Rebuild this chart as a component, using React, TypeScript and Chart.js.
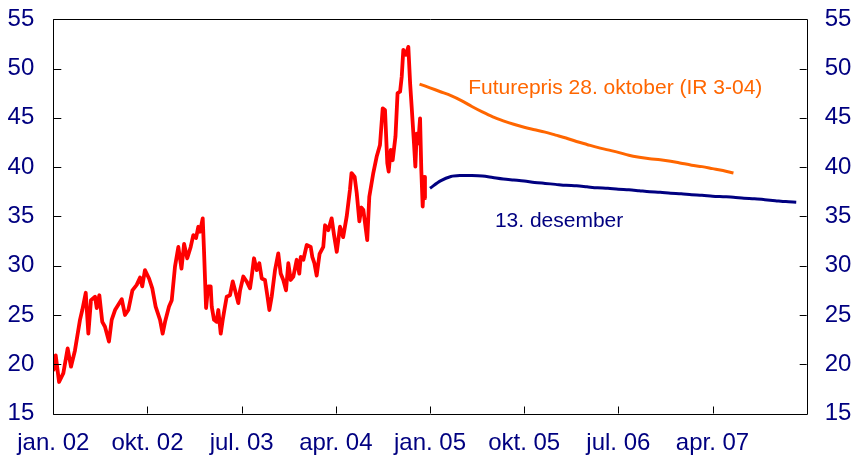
import React, { useEffect, useRef } from "react";
import { Chart, registerables } from "chart.js";

Chart.register(...registerables);

// Month index: 0 = jan. 2002
const tickMonths = [0, 9, 18, 27, 36, 45, 54, 63];
const tickLabels = ["jan. 02", "okt. 02", "jul. 03", "apr. 04", "jan. 05", "okt. 05", "jul. 06", "apr. 07"];
const yTicks = [15, 20, 25, 30, 35, 40, 45, 50, 55];

const spotMonths = [
  0.0, 0.23, 0.55, 0.96, 1.37, 1.69, 2.07, 2.55, 2.77, 3.1, 3.35, 3.6, 3.99, 4.15, 4.4, 4.68, 4.94, 5.32, 5.58, 5.9,
  6.54, 6.85, 7.17, 7.56, 7.97, 8.29, 8.5, 8.76, 9.15, 9.46, 9.78, 10.2, 10.45, 10.68, 11.06, 11.32, 11.63, 11.95,
  12.25, 12.5, 12.8, 13.13, 13.38, 13.64, 13.86, 14.02, 14.28, 14.4, 14.6, 14.8, 15.04, 15.14, 15.36, 15.6, 15.77,
  16.0, 16.19, 16.35, 16.57, 16.89, 17.15, 17.37, 17.68, 17.85, 18.16, 18.48, 18.8, 18.96, 19.18, 19.44, 19.69,
  19.92, 20.23, 20.45, 20.65, 20.87, 21.19, 21.5, 21.73, 21.98, 22.24, 22.46, 22.69, 22.94, 23.26, 23.51, 23.65,
  23.9, 24.22, 24.6, 24.75, 24.95, 25.17, 25.45, 25.8, 25.97, 26.28, 26.6, 26.83, 27.09, 27.4, 27.7, 28.04, 28.35,
  28.5, 28.8, 29.0, 29.25, 29.45, 29.63, 30.0, 30.2, 30.58, 30.9, 31.22, 31.48, 31.7, 31.92, 32.05, 32.25, 32.43,
  32.7, 32.9, 33.14, 33.3, 33.45, 33.7, 33.93, 34.1, 34.25, 34.47, 34.6, 34.73, 34.88, 35.05, 35.17, 35.3, 35.43, 35.52,
];
const spotValues = [
  19.3, 20.9, 18.2, 19.1, 21.6, 19.75, 21.4, 24.5, 25.5, 27.25, 23.1, 26.5, 26.85, 25.7, 27.0, 24.3, 23.8, 22.3, 24.5, 25.5,
  26.6, 25.0, 25.5, 27.5, 28.05, 28.8, 27.9, 29.55, 28.7, 27.7, 25.85, 24.5, 23.1, 24.3, 25.85, 26.5, 29.9, 31.9,
  29.7, 32.2, 30.75, 31.9, 33.1, 32.8, 33.95, 33.45, 34.8, 31.6, 25.7, 27.9, 27.9, 25.85, 24.5, 24.3, 25.5,
  23.1, 24.5, 25.5, 26.85, 27.0, 28.4, 27.5, 26.2, 27.5, 28.9, 28.4, 27.7, 28.9, 30.75, 29.55, 30.25,
  28.7, 28.55, 27.0, 25.5, 26.85, 29.55, 31.25, 29.2, 28.55, 27.5, 30.25, 28.55, 28.9, 30.6, 29.2, 30.9,
  30.6, 32.1, 31.9, 30.9, 30.25, 29.0, 31.2, 31.9, 34.1, 33.6, 34.8, 33.1, 31.4, 33.95, 32.9, 35.0, 37.7,
  39.4, 39.0, 37.35, 34.5, 35.9, 35.65, 32.6, 37.0, 39.4, 41.05, 42.25, 45.97, 45.8, 40.4, 39.55, 41.75, 40.7,
  43.1, 47.5, 47.65, 49.2, 51.9, 51.4, 52.2, 48.5, 46.1, 42.4, 40.05, 43.4, 42.4, 44.95, 39.7, 36.0, 39.0, 36.85,
];

const futOctMonths = [35, 36, 37, 38, 39, 40, 41, 42, 43, 44, 45, 46, 47, 48, 49, 50, 51, 52, 53, 54, 55, 56, 57, 58, 59, 60, 61, 62, 63, 64, 65];
const futOctValues = [
  48.43, 48.05, 47.65, 47.25, 46.75, 46.15, 45.6, 45.1, 44.7, 44.35, 44.05, 43.8, 43.55, 43.25, 42.95, 42.6, 42.3, 42.0,
  41.75, 41.5, 41.2, 41.0, 40.85, 40.75, 40.6, 40.4, 40.2, 40.05, 39.85, 39.65, 39.4,
];

const futDecMonths = [36, 37, 38, 39, 40, 41, 42, 43, 44, 45, 46, 47, 48, 49, 50, 51, 52, 53, 54, 55, 56, 57, 58, 59, 60, 61, 62, 63, 64, 65, 66, 67, 68, 69, 70, 71];
const futDecValues = [
  37.85, 38.6, 39.05, 39.15, 39.15, 39.1, 38.95, 38.8, 38.7, 38.6, 38.45, 38.35, 38.25, 38.15, 38.1, 38.0, 37.9, 37.85,
  37.75, 37.7, 37.6, 37.5, 37.45, 37.35, 37.3, 37.2, 37.15, 37.05, 37.0, 36.95, 36.85, 36.8, 36.7, 36.6, 36.5, 36.43,
];

const annotations = [
  { text: "Futurepris 28. oktober (IR 3-04)", month: 39.65, value: 47.42, color: "#FF6600" },
  { text: "13. desember", month: 42.2, value: 33.96, color: "#000080" },
];

const NAVY = "#000080";
const FONT = "'Liberation Sans', Arial, sans-serif";

const zip = (xs: number[], ys: number[]) => xs.map((x, i) => ({ x, y: ys[i] }));

const framePlugin = {
  id: "frame",
  afterDatasetsDraw(chart: any) {
    const { ctx, chartArea } = chart;
    const { left, right, top, bottom } = chartArea;
    const xs = chart.scales.x;
    const ys = chart.scales.y;
    ctx.save();
    ctx.strokeStyle = "#000";
    ctx.lineWidth = 1;
    ctx.beginPath();
    ctx.rect(Math.round(left) + 0.5, Math.round(top) + 0.5, Math.round(right) - Math.round(left), Math.round(bottom) - Math.round(top));
    ctx.stroke();
    ctx.beginPath();
    tickMonths.forEach((m) => {
      const px = Math.round(xs.getPixelForValue(m)) + 0.5;
      ctx.moveTo(px, bottom);
      ctx.lineTo(px, bottom - 7);
    });
    yTicks.forEach((v) => {
      const py = Math.round(ys.getPixelForValue(v)) + 0.5;
      ctx.moveTo(left, py);
      ctx.lineTo(left + 8, py);
      ctx.moveTo(right, py);
      ctx.lineTo(right - 7, py);
    });
    ctx.stroke();
    ctx.font = `21px ${FONT}`;
    ctx.textBaseline = "alphabetic";
    ctx.textAlign = "left";
    annotations.forEach((a) => {
      ctx.fillStyle = a.color;
      ctx.fillText(a.text, xs.getPixelForValue(a.month), ys.getPixelForValue(a.value));
    });
    ctx.restore();
  },
};

export default function App() {
  const ref = useRef<HTMLCanvasElement>(null);
  useEffect(() => {
    document.body.style.margin = "0";
    const canvas = ref.current!;
    const yAxisCommon = {
      type: "linear" as const,
      min: 15,
      max: 55,
      grid: { display: false, drawTicks: false },
      border: { display: false },
      afterBuildTicks: (s: any) => {
        s.ticks = yTicks.map((v) => ({ value: v }));
      },
    };
    const chart = new Chart(canvas, {
      type: "line",
      data: {
        datasets: [
          {
            data: zip(spotMonths, spotValues),
            borderColor: "#FF0000",
            borderWidth: 3.8,
            pointRadius: 0,
            tension: 0,
            borderJoinStyle: "round",
          },
          {
            data: zip(futOctMonths, futOctValues),
            borderColor: "#FF6600",
            borderWidth: 3,
            pointRadius: 0,
            tension: 0.3,
          },
          {
            data: zip(futDecMonths, futDecValues),
            borderColor: NAVY,
            borderWidth: 3,
            pointRadius: 0,
            tension: 0.3,
          },
        ],
      },
      options: {
        animation: false,
        responsive: false,
        devicePixelRatio: 1,
        layout: { padding: { top: 19.3, left: 0, right: 0, bottom: 0 } },
        plugins: { legend: { display: false }, tooltip: { enabled: false } },
        scales: {
          x: {
            type: "linear",
            min: 0,
            max: 72,
            grid: { display: false, drawTicks: false },
            border: { display: false },
            afterBuildTicks: (s: any) => {
              s.ticks = tickMonths.map((v) => ({ value: v }));
            },
            afterFit: (s: any) => {
              s.height = 43.5;
              s.paddingLeft = 0;
              s.paddingRight = 0;
            },
            ticks: {
              autoSkip: false,
              maxRotation: 0,
              padding: 15,
              color: NAVY,
              font: { family: FONT, size: 24 },
              callback: (v: any) => {
                const i = tickMonths.indexOf(Number(v));
                return i >= 0 ? tickLabels[i] : "";
              },
            },
          },
          y: {
            ...yAxisCommon,
            position: "left",
            afterFit: (s: any) => {
              s.width = 53.3;
              s.paddingTop = 0;
              s.paddingBottom = 0;
            },
            ticks: { padding: 19, color: NAVY, font: { family: FONT, size: 24 } },
          },
          y2: {
            ...yAxisCommon,
            position: "right",
            afterFit: (s: any) => {
              s.width = 49.3;
              s.paddingTop = 0;
              s.paddingBottom = 0;
            },
            ticks: { padding: 18, color: NAVY, font: { family: FONT, size: 24 } },
          },
        },
      },
      plugins: [framePlugin],
    } as any);
    return () => chart.destroy();
  }, []);
  return <canvas ref={ref} width={856} height={457} />;
}
